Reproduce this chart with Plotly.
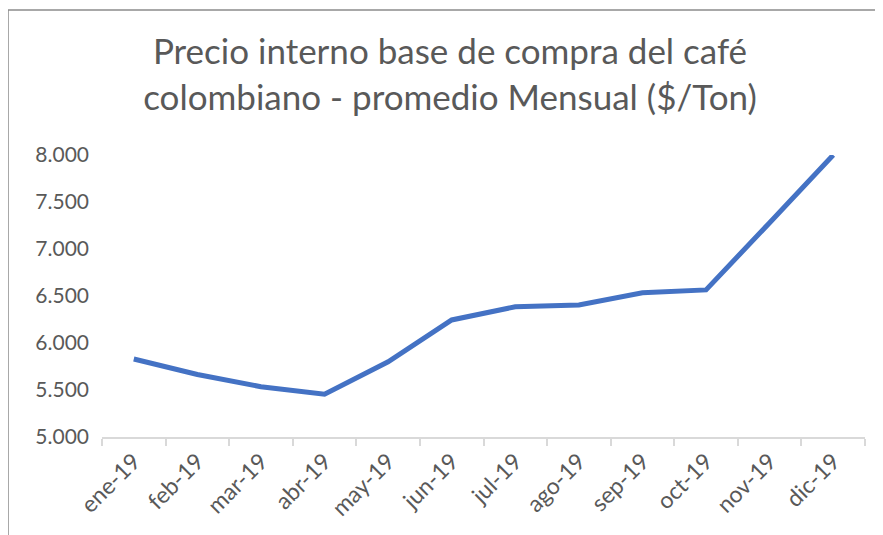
import plotly.graph_objects as go

months = ["ene-19", "feb-19", "mar-19", "abr-19", "may-19", "jun-19",
          "jul-19", "ago-19", "sep-19", "oct-19", "nov-19", "dic-19"]
prices = [5830, 5665, 5535, 5455, 5800, 6245, 6385, 6405, 6535, 6565, 7280, 8000]
y_ticks = [5000, 5500, 6000, 6500, 7000, 7500, 8000]

title_text = "Precio interno base de compra del café<br>colombiano - promedio Mensual ($/Ton)"
FONT = "Lato"
GREY = "#595959"

# the page body has an 8px margin, so the figure is laid out 8px smaller
W, H = 875, 527

fig = go.Figure()
fig.add_trace(go.Scatter(
    x=months, y=prices, mode="lines",
    line=dict(color="#4472C4", width=5),
    hoverinfo="x+y",
))

fig.update_layout(
    width=W, height=H,
    margin=dict(l=94, r=18, t=147, b=98),
    paper_bgcolor="white", plot_bgcolor="white",
    separators=",.",
    showlegend=False,
    font=dict(family=FONT, color=GREY, size=21),
    title=dict(
        text=title_text,
        x=442 / W, xanchor="center", xref="container",
        y=1 - 56 / H, yanchor="top", yref="container",
        font=dict(family=FONT, size=35, color=GREY),
    ),
    xaxis=dict(
        type="category",
        range=[-0.5, len(months) - 0.5],
        automargin=False,
        showgrid=False, zeroline=False,
        showline=True, linecolor="#d9d9d9", linewidth=1.5,
        ticks="outside", tickson="boundaries", ticklen=7,
        tickcolor="#d9d9d9", tickwidth=1.5,
        tickangle=-45,
        tickfont=dict(family=FONT, size=23, color=GREY),
    ),
    yaxis=dict(
        range=[5000, 8000],
        automargin=False,
        tickvals=y_ticks,
        tickformat=",.0f",
        showgrid=False, zeroline=False, showline=False,
        ticks="",
        ticklabelstandoff=12,
        tickfont=dict(family=FONT, size=21, color=GREY),
    ),
    shapes=[dict(
        type="rect", xref="paper", yref="paper",
        x0=(0 - 94) / 763, x1=1.5,
        y0=-1.0, y1=(429 - 2) / 282,
        line=dict(color="#8c8c8c", width=1.5),
        fillcolor="rgba(0,0,0,0)", layer="below",
    )],
)

fig.write_html("out.html")
